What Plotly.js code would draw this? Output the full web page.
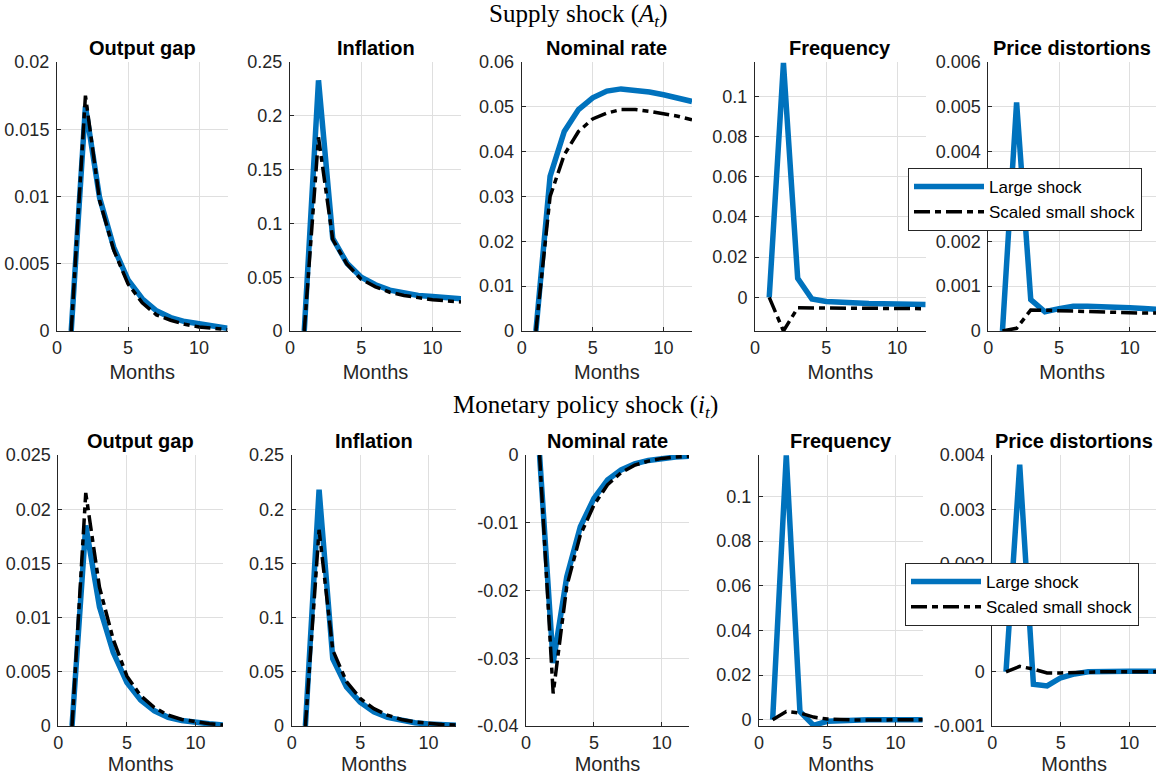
<!DOCTYPE html>
<html>
<head>
<meta charset="utf-8">
<script src="https://cdn.plot.ly/plotly-3.0.1.min.js"></script>
<style>
html,body{margin:0;padding:0;overflow:hidden;background:#fff;}
#chart{width:1156px;height:779px;}
</style>
</head>
<body>
<div id="chart"></div>
<script>
// ---------- DATA ----------
const months = [1,2,3,4,5,6,7,8,9,10,11,12];
const panelTitles = ["Output gap","Inflation","Nominal rate","Frequency","Price distortions"];
const rowTitles = ["Supply shock (<i>A<sub>t</sub></i>)", "Monetary policy shock (<i>i<sub>t</sub></i>)"];
const seriesNames = ["Large shock","Scaled small shock"];
const xLabel = "Months";

// tick labels for the panels with negative values (plain hyphen minus as in the original)
const monetaryRateTicks = [-0.04,-0.03,-0.02,-0.01,0];
const monetaryRateTickLabels = ["-0.04","-0.03","-0.02","-0.01","0"];
const monetaryDistTicks = [-0.001,0,0.001,0.002,0.003,0.004];
const monetaryDistTickLabels = ["-0.001","0","0.001","0.002","0.003","0.004"];

// Supply shock (top row)
const supplyOutputLarge = [0,0.0167,0.0099,0.0062,0.0038,0.0024,0.0015,0.0010,0.0007,0.0005,0.0003,0.0002];
const supplyOutputSmall = [0,0.0175,0.0097,0.0060,0.0035,0.0021,0.0012,0.0008,0.0005,0.0003,0.0002,0.0001];
const supplyInflLarge   = [0,0.233,0.086,0.063,0.050,0.043,0.038,0.035,0.033,0.032,0.031,0.030];
const supplyInflSmall   = [0,0.180,0.085,0.062,0.048,0.041,0.036,0.033,0.031,0.029,0.028,0.027];
const supplyRateLarge   = [0,0.0345,0.0445,0.0494,0.0520,0.0535,0.0540,0.0538,0.0533,0.0527,0.0520,0.0512];
const supplyRateSmall   = [0,0.0300,0.0393,0.0445,0.0473,0.0486,0.0494,0.0494,0.0490,0.0485,0.0479,0.0471];
const supplyFreqLarge   = [0,0.1165,0.0095,-0.0008,-0.0020,-0.0025,-0.0028,-0.0030,-0.0031,-0.0032,-0.0033,-0.0035];
const supplyFreqSmall   = [0,-0.0167,-0.0052,-0.0052,-0.0053,-0.0054,-0.0054,-0.0055,-0.0055,-0.0056,-0.0056,-0.0056];
const supplyDistLarge   = [0,0.0051,0.0007,0.00043,0.00050,0.00055,0.00055,0.00055,0.00054,0.00052,0.00050,0.00048];
const supplyDistSmall   = [0,0.00006,0.00047,0.00046,0.00045,0.00044,0.00043,0.00042,0.00042,0.00041,0.00040,0.00040];

// Monetary policy shock (bottom row)
const monetaryOutputLarge = [0,0.0185,0.0110,0.0068,0.0040,0.0024,0.0014,0.0008,0.0005,0.0003,0.0002,0.0001];
const monetaryOutputSmall = [0,0.0215,0.0128,0.0080,0.0046,0.0028,0.0017,0.0010,0.0006,0.0004,0.0002,0.0001];
const monetaryInflLarge   = [0,0.218,0.062,0.036,0.022,0.013,0.008,0.005,0.003,0.0018,0.0010,0.0006];
const monetaryInflSmall   = [0,0.181,0.070,0.041,0.0255,0.016,0.010,0.006,0.0037,0.0022,0.0013,0.0008];
const monetaryRateLarge   = [0,-0.0307,-0.0180,-0.0106,-0.0064,-0.0037,-0.0022,-0.0013,-0.0008,-0.0005,-0.0003,-0.0002];
const monetaryRateSmall   = [0,-0.0352,-0.0194,-0.0118,-0.0074,-0.0044,-0.0026,-0.0015,-0.0009,-0.0005,-0.0003,-0.0002];
const monetaryFreqLarge   = [0,0.1183,0.0037,-0.0025,-0.0007,-0.0003,-0.0001,0,0,0,0,0];
const monetaryFreqSmall   = [0,0.0037,0.0030,0.0012,0.0003,0,-0.0001,-0.0001,0,0,0,0];
const monetaryDistLarge   = [0,0.00382,-0.00023,-0.00026,-0.00011,-0.00004,0,0.00001,0.00001,0.00001,0.00001,0.00001];
const monetaryDistSmall   = [0,0.00010,0.00005,-0.00002,-0.00002,-0.00001,0,0,0,0,0,0];

const supplyLarge = [supplyOutputLarge, supplyInflLarge, supplyRateLarge, supplyFreqLarge, supplyDistLarge];
const supplySmall = [supplyOutputSmall, supplyInflSmall, supplyRateSmall, supplyFreqSmall, supplyDistSmall];
const monetaryLarge = [monetaryOutputLarge, monetaryInflLarge, monetaryRateLarge, monetaryFreqLarge, monetaryDistLarge];
const monetarySmall = [monetaryOutputSmall, monetaryInflSmall, monetaryRateSmall, monetaryFreqSmall, monetaryDistSmall];

// ---------- LAYOUT / STYLE ----------
const W = 1156, H = 779;
const BLUE = '#0072BD';
const AXC = '#262626';
const GRID = '#dfdfdf';

// pixel boxes [left, right, top, bottom]
const boxes = [
  [57,227.5,62,331],[290,461,62,331],[521.7,692,62,331],[755,925.7,62,331],[988.3,1156,62,331],
  [58.3,223,455,726],[291.7,456,455,726],[526,689,455,726],[759,922.7,455,726],[992.3,1156,455,726]
];
const xRanges = [[0,12],[0,12],[0,12],[0,12],[0,11.85],[0,12],[0,12],[0,12],[0,12],[0,11.95]];
const yRanges = [[0,0.02],[0,0.25],[0,0.06],[-0.0167,0.117],[0,0.006],
                 [0,0.025],[0,0.25],[-0.04,0],[-0.0028,0.1185],[-0.001,0.004]];
const yDticks = [0.005,0.05,0.01,0.02,0.001,0.005,0.05,0.01,0.02,0.001];
const customTicks = {8: [monetaryRateTicks, monetaryRateTickLabels], 10: [monetaryDistTicks, monetaryDistTickLabels]};

const traces = [];
const legendStyle = {
  xanchor: 'left', yanchor: 'top',
  bgcolor: '#fff', bordercolor: AXC, borderwidth: 1,
  font: {size: 17, color: '#000', family: 'Liberation Sans, Arial, sans-serif'},
  itemwidth: 70, tracegroupgap: 0
};
const layout = {
  width: W, height: H,
  margin: {l:0,r:0,t:0,b:0},
  paper_bgcolor: '#fff', plot_bgcolor: '#fff',
  font: {family: 'Liberation Sans, Arial, sans-serif', size: 18, color: AXC},
  showlegend: true,
  annotations: [],
  legend: Object.assign({x: 908/W, y: 1-168/H}, legendStyle),
  legend2: Object.assign({x: 905/W, y: 1-563/H}, legendStyle)
};

for (let p = 0; p < 10; p++) {
  const row = p < 5 ? 0 : 1;
  const col = p % 5;
  const n = p + 1;
  const xa = n === 1 ? 'x' : 'x' + n;
  const ya = n === 1 ? 'y' : 'y' + n;
  const b = boxes[p];
  const largeY = row === 0 ? supplyLarge[col] : monetaryLarge[col];
  const smallY = row === 0 ? supplySmall[col] : monetarySmall[col];
  const legendId = row === 0 ? 'legend' : 'legend2';
  traces.push({
    x: months, y: largeY, xaxis: xa, yaxis: ya, type: 'scatter', mode: 'lines',
    name: seriesNames[0], legend: legendId, showlegend: col === 0,
    line: {color: BLUE, width: 5.5}
  });
  traces.push({
    x: months, y: smallY, xaxis: xa, yaxis: ya, type: 'scatter', mode: 'lines',
    name: seriesNames[1], legend: legendId, showlegend: col === 0,
    line: {color: '#000', width: 3.5, dash: '16px,5px,6px,5px'}
  });
  const axCommon = {
    showline: true, linecolor: AXC, linewidth: 1, mirror: false,
    showgrid: true, gridcolor: GRID, gridwidth: 1, zeroline: false,
    ticks: 'inside', ticklen: 4, tickcolor: AXC, tickwidth: 1,
    tickfont: {size: 18, color: AXC}, fixedrange: true
  };
  layout['xaxis' + (n === 1 ? '' : n)] = Object.assign({}, axCommon, {
    domain: [b[0]/W, b[1]/W], anchor: ya, range: xRanges[p],
    tick0: 0, dtick: 5,
    title: {text: xLabel, font: {size: 20, color: AXC}, standoff: row === 0 ? 8 : 4}
  });
  const yax = Object.assign({}, axCommon, {
    domain: [1 - b[3]/H, 1 - b[2]/H], anchor: xa, range: yRanges[p],
    tick0: 0, dtick: yDticks[p], ticklabelstandoff: 3
  });
  if (customTicks[n]) {
    yax.tickmode = 'array';
    yax.tickvals = customTicks[n][0];
    yax.ticktext = customTicks[n][1];
  }
  layout['yaxis' + (n === 1 ? '' : n)] = yax;
  layout.annotations.push({
    text: '<b>' + panelTitles[col] + '</b>', showarrow: false,
    xref: xa + ' domain', yref: ya + ' domain', x: 0.5, y: 1,
    xanchor: 'center', yanchor: 'bottom', yshift: 1,
    font: {size: 20, color: '#000', family: 'Liberation Sans, Arial, sans-serif'}
  });
}

layout.annotations.push({
  text: rowTitles[0], showarrow: false, xref: 'paper', yref: 'paper',
  x: 578/W, y: 1 - 15/H, xanchor: 'center', yanchor: 'middle',
  font: {size: 25, color: '#000', family: 'Liberation Serif, serif'}
});
layout.annotations.push({
  text: rowTitles[1], showarrow: false, xref: 'paper', yref: 'paper',
  x: 585/W, y: 1 - 406/H, xanchor: 'center', yanchor: 'middle',
  font: {size: 25, color: '#000', family: 'Liberation Serif, serif'}
});

Plotly.newPlot('chart', traces, layout, {staticPlot: true, displayModeBar: false});
</script>
</body>
</html>
